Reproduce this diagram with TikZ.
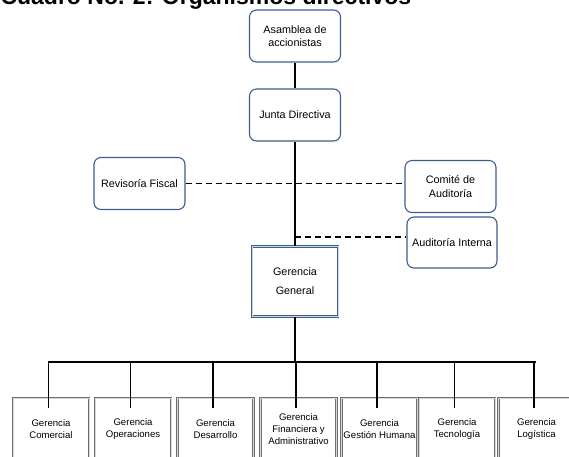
\documentclass[tikz,border=0pt]{standalone}
\usepackage{fontspec}
\setmainfont{Liberation Sans}
\usepackage{tikz}
\usetikzlibrary{calc}
\definecolor{cajaazul}{RGB}{60,95,140}
\definecolor{cajagris}{RGB}{110,110,110}
\tikzset{
 caja/.style={draw=cajaazul, line width=1.1pt, rounded corners=7pt, fill=white, minimum width=91pt, minimum height=52pt, align=center, inner sep=2pt, font=\fontsize{10.8}{13.5}\selectfont},
 cajagral/.style={draw=cajaazul, line width=1.2pt, double=cajaazul!25, double distance=.5pt, fill=white, minimum width=86pt, minimum height=70pt, align=center, font=\fontsize{10.8}{19}\selectfont},
 area/.style={draw=cajagris, line width=.8pt, double=gray!30, double distance=.6pt, fill=white, minimum width=76pt, minimum height=62pt, align=center, inner sep=1pt, font=\fontsize{9.6}{12}\selectfont},
 linea/.style={black, line width=1.6pt},
 punteada/.style={black, line width=1.6pt, dash pattern=on 6pt off 4pt},
}

\begin{document}
\begin{tikzpicture}[x=1pt, y=-1pt]
\useasboundingbox (0,0) rectangle (569,456);
\clip (0,0) rectangle (569,456);
\node[anchor=base west, font=\fontsize{23}{26}\selectfont\bfseries] (titulo) at (-3,4.5) {Cuadro No. 2: Organismos directivos};
\node[caja] (asamblea) at (295,36) {Asamblea de\\accionistas};
\node[caja] (junta) at (295,115) {Junta Directiva};
\node[caja] (revisoria) at (139.5,183.5) {Revisoría Fiscal};
\node[caja] (comite) at (450.5,186.5) {Comité de\\Auditoría};
\node[caja, minimum width=90pt, minimum height=51pt] (interna) at (452,242.5) {Auditoría Interna};
\node[cajagral] (general) at (295,281.5) {Gerencia\\General};
\foreach \x/\n/\t in {51/1/{Gerencia\\Comercial}, 133/2/{Gerencia\\Operaciones}, 215.5/3/{Gerencia\\Desarrollo}, 298.5/4/{Gerencia\\Financiera y\\Administrativo}, 379.5/5/{Gerencia\\Gestión Humana}, 457/6/{Gerencia\\Tecnología}, 536.5/7/{Gerencia\\Logística}} {
 \node[area] (g\n) at (\x,429) {\t};
}
\coordinate (cruce) at (295,237);
\coordinate (bus) at (295,362);
\draw[linea] (asamblea.south) -- (junta.north);
\draw[linea] (junta.south) -- (general.north);
\draw[punteada] (revisoria.east) -- (revisoria.east -| comite.west);
\draw[punteada] (cruce) -- (cruce -| interna.west);
\draw[linea] (general.south) -- (bus);
\draw[linea] ([xshift=-3pt]bus -| g1.north) -- ([xshift=-0.5pt]bus -| g7.north);
\foreach \n in {1,...,7} {
 \draw[linea] ([xshift=-2.5pt]bus -| g\n.north) -- ([xshift=-2.5pt, yshift=-10pt]g\n.north);
}
\end{tikzpicture}
\end{document}
